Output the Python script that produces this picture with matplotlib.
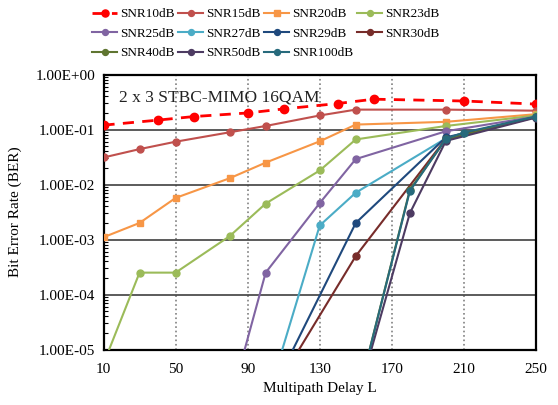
import matplotlib.pyplot as plt
import numpy as np

plt.rcParams['font.family'] = ['Liberation Serif', 'DejaVu Serif']

# delay values (multipath delay L) and BER
x_a = [10, 40, 60, 90, 110, 140, 160, 210, 250]
x_b = [10, 30, 50, 80, 100, 130, 150, 200, 250]

snr10 = [0.12, 0.148, 0.172, 0.2, 0.237, 0.297, 0.356, 0.33, 0.29]
snr15 = [0.031, 0.044, 0.06, 0.089, 0.116, 0.18, 0.23, 0.23, 0.22]
snr20 = [0.0011, 0.002, 0.0057, 0.013, 0.025, 0.061, 0.123, 0.138, 0.19]
snr23 = [5.5e-6, 2.5e-4, 2.5e-4, 1.15e-3, 0.0045, 0.018, 0.066, 0.116, 0.18]

x25 = [80, 100, 130, 150, 200, 250]
snr25 = [1e-6, 2.5e-4, 0.0046, 0.029, 0.093, 0.172]
x27 = [100, 130, 150, 200, 250]
snr27 = [1e-6, 0.0018, 0.0071, 0.069, 0.17]
x29 = [100, 150, 200, 250]
snr29 = [1e-6, 0.002, 0.072, 0.17]
x30 = [100, 150, 200, 250]
snr30 = [1e-6, 5e-4, 0.068, 0.168]
x40 = [150, 180, 200, 250]
snr40 = [1e-6, 0.008, 0.066, 0.17]
x50 = [150, 180, 200, 250]
snr50 = [1e-6, 0.003, 0.062, 0.165]
x100 = [150, 180, 200, 210, 250]
snr100 = [1e-6, 0.0076, 0.068, 0.088, 0.172]

series = [
    ('SNR10dB', x_a, snr10, '#FF0000', 'o', '--'),
    ('SNR15dB', x_b, snr15, '#C0504D', 'o', '-'),
    ('SNR20dB', x_b, snr20, '#F79646', 's', '-'),
    ('SNR23dB', x_b, snr23, '#9BBB59', 'o', '-'),
    ('SNR25dB', x25, snr25, '#8064A2', 'o', '-'),
    ('SNR27dB', x27, snr27, '#4BACC6', 'o', '-'),
    ('SNR29dB', x29, snr29, '#1F497D', 'o', '-'),
    ('SNR30dB', x30, snr30, '#772C2A', 'o', '-'),
    ('SNR40dB', x40, snr40, '#5F7530', 'o', '-'),
    ('SNR50dB', x50, snr50, '#4D3B62', 'o', '-'),
    ('SNR100dB', x100, snr100, '#276A7C', 'o', '-'),
]

fig = plt.figure(figsize=(5.58, 4.05), dpi=100)
ax = fig.add_axes([0.1855, 0.137, 0.775, 0.679])

for name, xs, ys, col, mk, ls in series:
    if ls == '--':
        ax.plot(xs, ys, color=col, marker=mk, ls=ls, lw=2, ms=6,
                dashes=(4, 3), label=name, zorder=3)
    else:
        ax.plot(xs, ys, color=col, marker=mk, ls=ls, lw=1.5, ms=5,
                label=name, zorder=3)

ax.set_yscale('log')
ax.set_xlim(10, 250)
ax.set_ylim(1e-5, 1)
ax.set_xticks([10, 50, 90, 130, 170, 210, 250])
yt = [1e-5, 1e-4, 1e-3, 1e-2, 1e-1, 1e0]
ax.set_yticks(yt)
ax.set_yticklabels(['1.00E-05', '1.00E-04', '1.00E-03', '1.00E-02', '1.00E-01', '1.00E+00'])
ax.tick_params(axis='both', which='major', length=0, labelsize=11)
ax.tick_params(axis='x', which='major', pad=10)
ax.tick_params(axis='y', which='major', pad=6)
ax.minorticks_on()
ax.tick_params(axis='y', which='minor', direction='in', length=3, width=0.8,
               labelleft=False)
ax.tick_params(axis='x', which='minor', bottom=False)

for v in [50, 90, 130, 170, 210]:
    ax.axvline(v, color='#808080', ls=':', lw=1.2, zorder=1)
for v in [1e-4, 1e-3, 1e-2, 1e-1]:
    ax.axhline(v, color='#404040', lw=1.2, zorder=1)

for s in ax.spines.values():
    s.set_linewidth(1.6)
    s.set_color('black')

ax.set_xlabel('Multipath Delay L', fontsize=11, labelpad=4)
ax.set_ylabel('Bit Error Rate (BER)', fontsize=11, labelpad=10)
ax.text(0.035, 0.945, '2 x 3 STBC-MIMO 16QAM', transform=ax.transAxes,
        fontsize=12.5, color='#222222', va='top', ha='left')

# legend reads row by row in the reference
h, l = ax.get_legend_handles_labels()
order = [0, 4, 8, 1, 5, 9, 2, 6, 10, 3, 7]
fig.legend([h[i] for i in order], [l[i] for i in order],
           loc='upper left', bbox_to_anchor=(92 / 558, 0.98), ncol=4,
           frameon=False, fontsize=9.5, handlelength=1.9, handletextpad=0.25,
           columnspacing=0.25, labelspacing=0.55, borderpad=0, borderaxespad=0,
           markerscale=0.85)

fig.savefig('out.png', dpi=100)
